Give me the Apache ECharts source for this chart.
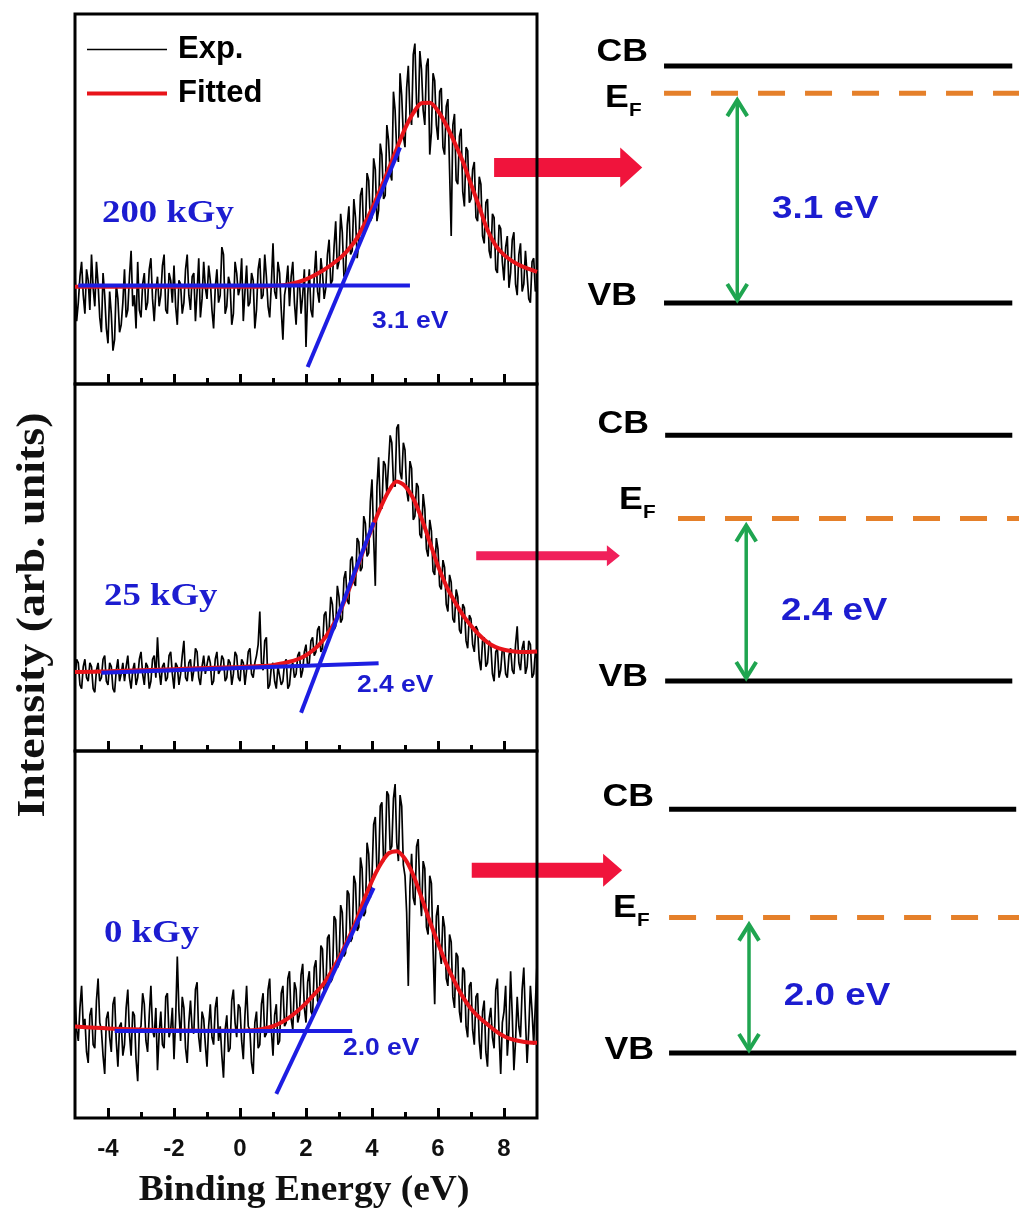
<!DOCTYPE html>
<html>
<head>
<meta charset="utf-8">
<script src="https://cdn.jsdelivr.net/npm/echarts@6/dist/echarts.min.js"></script>
<style>
  html, body { margin: 0; padding: 0; background: #fff; }
  #chart { width: 1019px; height: 1211px; }
</style>
</head>
<body>
<div id="chart"></div>
<script>
// ---- Valence-band XPS spectra (binding energy in eV, intensity in arb. units) ----
const energy = [
  -5, -4.95, -4.9, -4.85, -4.8, -4.75, -4.7, -4.65, -4.6, -4.55, -4.5, -4.45, -4.4, -4.35, -4.3, -4.25, -4.2, -4.15, -4.1, -4.05,
  -4, -3.95, -3.9, -3.85, -3.8, -3.75, -3.7, -3.65, -3.6, -3.55, -3.5, -3.45, -3.4, -3.35, -3.3, -3.25, -3.2, -3.15, -3.1, -3.05,
  -3, -2.95, -2.9, -2.85, -2.8, -2.75, -2.7, -2.65, -2.6, -2.55, -2.5, -2.45, -2.4, -2.35, -2.3, -2.25, -2.2, -2.15, -2.1, -2.05,
  -2, -1.95, -1.9, -1.85, -1.8, -1.75, -1.7, -1.65, -1.6, -1.55, -1.5, -1.45, -1.4, -1.35, -1.3, -1.25, -1.2, -1.15, -1.1, -1.05,
  -1, -0.95, -0.9, -0.85, -0.8, -0.75, -0.7, -0.65, -0.6, -0.55, -0.5, -0.45, -0.4, -0.35, -0.3, -0.25, -0.2, -0.15, -0.1, -0.05,
  0, 0.05, 0.1, 0.15, 0.2, 0.25, 0.3, 0.35, 0.4, 0.45, 0.5, 0.55, 0.6, 0.65, 0.7, 0.75, 0.8, 0.85, 0.9, 0.95,
  1, 1.05, 1.1, 1.15, 1.2, 1.25, 1.3, 1.35, 1.4, 1.45, 1.5, 1.55, 1.6, 1.65, 1.7, 1.75, 1.8, 1.85, 1.9, 1.95,
  2, 2.05, 2.1, 2.15, 2.2, 2.25, 2.3, 2.35, 2.4, 2.45, 2.5, 2.55, 2.6, 2.65, 2.7, 2.75, 2.8, 2.85, 2.9, 2.95,
  3, 3.05, 3.1, 3.15, 3.2, 3.25, 3.3, 3.35, 3.4, 3.45, 3.5, 3.55, 3.6, 3.65, 3.7, 3.75, 3.8, 3.85, 3.9, 3.95,
  4, 4.05, 4.1, 4.15, 4.2, 4.25, 4.3, 4.35, 4.4, 4.45, 4.5, 4.55, 4.6, 4.65, 4.7, 4.75, 4.8, 4.85, 4.9, 4.95,
  5, 5.05, 5.1, 5.15, 5.2, 5.25, 5.3, 5.35, 5.4, 5.45, 5.5, 5.55, 5.6, 5.65, 5.7, 5.75, 5.8, 5.85, 5.9, 5.95,
  6, 6.05, 6.1, 6.15, 6.2, 6.25, 6.3, 6.35, 6.4, 6.45, 6.5, 6.55, 6.6, 6.65, 6.7, 6.75, 6.8, 6.85, 6.9, 6.95,
  7, 7.05, 7.1, 7.15, 7.2, 7.25, 7.3, 7.35, 7.4, 7.45, 7.5, 7.55, 7.6, 7.65, 7.7, 7.75, 7.8, 7.85, 7.9, 7.95,
  8, 8.05, 8.1, 8.15, 8.2, 8.25, 8.3, 8.35, 8.4, 8.45, 8.5, 8.55, 8.6, 8.65, 8.7, 8.75, 8.8, 8.85, 8.9, 8.95,
  9
];

// measured spectra
const exp200 = [
  30, 17, 22, 29, 33, 24, 19, 31, 28, 20, 35, 26, 21, 33, 27, 18, 14, 30, 24, 15,
  11, 25, 19, 9, 12, 27, 23, 14, 16, 22, 31, 18, 20, 29, 36, 21, 24, 15, 33, 20,
  18, 27, 30, 20, 22, 31, 34, 23, 17, 25, 29, 21, 24, 32, 35, 20, 19, 30, 28, 22,
  32, 21, 16, 28, 27, 19, 22, 31, 35, 24, 20, 29, 30, 17, 25, 34, 18, 23, 33, 26,
  23, 32, 28, 20, 15, 26, 31, 22, 24, 37, 35, 19, 21, 29, 27, 16, 19, 33, 30, 24,
  26, 34, 17, 25, 32, 21, 22, 30, 28, 15, 20, 31, 34, 23, 24, 35, 29, 21, 18, 27,
  38, 25, 23, 33, 30, 20, 12, 24, 27, 32, 21, 29, 33, 22, 16, 26, 28, 19, 24, 31,
  10, 24, 31, 20, 18, 29, 36, 25, 22, 34, 30, 23, 26, 35, 39, 27, 28, 37, 44, 31,
  33, 46, 41, 29, 30, 43, 48, 35, 36, 50, 45, 34, 38, 51, 53, 40, 42, 57, 55, 44,
  45, 61, 58, 44, 47, 65, 62, 50, 51, 70, 66, 57, 55, 79, 74, 63, 60, 84, 78, 67,
  64, 80, 86, 73, 70, 89, 92, 76, 72, 90, 85, 74, 70, 86, 88, 62, 68, 84, 82, 70,
  66, 79, 80, 64, 62, 75, 77, 58, 40, 70, 73, 55, 54, 67, 69, 52, 48, 64, 63, 49,
  50, 58, 60, 45, 44, 56, 54, 40, 38, 49, 50, 36, 34, 46, 45, 31, 30, 43, 42, 33,
  28, 37, 40, 26, 30, 39, 41, 27, 24, 35, 38, 25, 27, 36, 36, 23, 22, 33, 34, 25,
  26
];
const exp25 = [
  20, 25, 24, 18, 17, 23, 25, 20, 19, 24, 23, 17, 16, 22, 24, 19, 20, 25, 26, 19,
  18, 24, 23, 17, 16, 22, 25, 19, 21, 24, 19, 23, 26, 20, 17, 22, 24, 18, 20, 25,
  27, 21, 18, 24, 23, 17, 19, 25, 26, 20, 31, 22, 18, 23, 24, 19, 20, 26, 27, 21,
  17, 24, 23, 18, 21, 26, 30, 20, 19, 24, 25, 19, 22, 28, 27, 20, 18, 23, 26, 21,
  21, 26, 24, 18, 19, 25, 27, 21, 22, 26, 25, 19, 20, 25, 24, 18, 21, 27, 26, 20,
  19, 25, 24, 18, 22, 27, 28, 21, 20, 24, 26, 29, 38, 24, 22, 30, 31, 17, 18, 23,
  24, 19, 17, 23, 23, 18, 19, 24, 25, 17, 18, 23, 24, 20, 21, 26, 27, 20, 22, 27,
  29, 23, 24, 30, 31, 26, 27, 33, 34, 27, 28, 37, 38, 31, 33, 42, 40, 33, 34, 45,
  42, 35, 36, 47, 49, 41, 40, 52, 53, 46, 45, 58, 57, 49, 50, 64, 62, 53, 54, 68,
  74, 58, 45, 72, 80, 67, 66, 79, 78, 70, 70, 86, 84, 73, 72, 88, 89, 76, 74, 84,
  82, 71, 68, 79, 77, 63, 64, 73, 72, 59, 58, 70, 66, 55, 53, 63, 60, 49, 48, 58,
  55, 45, 44, 52, 50, 40, 38, 48, 46, 36, 35, 44, 42, 33, 32, 40, 39, 30, 28, 37,
  36, 29, 27, 34, 33, 25, 22, 30, 31, 23, 24, 30, 29, 21, 19, 27, 28, 20, 22, 28,
  27, 21, 20, 26, 28, 22, 21, 29, 34, 24, 22, 28, 30, 21, 23, 30, 29, 20, 21, 27,
  25
];
const exp0 = [
  33, 24, 21, 30, 36, 25, 27, 18, 15, 28, 30, 20, 19, 32, 38, 26, 24, 17, 12, 27,
  29, 22, 18, 31, 33, 21, 14, 25, 26, 17, 20, 30, 35, 23, 17, 29, 28, 16, 10, 24,
  25, 34, 31, 21, 18, 28, 36, 24, 22, 30, 13, 23, 29, 20, 19, 33, 34, 22, 24, 30,
  16, 27, 44, 29, 21, 33, 30, 19, 15, 26, 32, 24, 23, 35, 37, 22, 18, 29, 27, 20,
  14, 25, 31, 22, 20, 30, 33, 21, 25, 17, 11, 24, 28, 18, 19, 32, 35, 26, 22, 31,
  30, 21, 16, 28, 36, 25, 24, 15, 12, 26, 29, 19, 20, 31, 34, 22, 23, 35, 38, 24,
  17, 28, 31, 20, 21, 34, 36, 25, 26, 38, 40, 27, 24, 37, 35, 26, 28, 39, 42, 30,
  26, 37, 40, 29, 28, 41, 43, 32, 31, 47, 46, 34, 35, 49, 50, 37, 38, 55, 54, 41,
  42, 58, 56, 44, 45, 62, 61, 48, 49, 66, 64, 51, 52, 71, 68, 55, 56, 75, 72, 60,
  66, 80, 82, 67, 68, 85, 86, 70, 71, 89, 88, 73, 74, 87, 91, 75, 70, 88, 85, 69,
  66, 56, 36, 63, 72, 60, 58, 74, 76, 62, 55, 70, 68, 52, 50, 66, 64, 46, 31, 55,
  58, 46, 42, 55, 52, 38, 36, 50, 48, 33, 30, 45, 44, 29, 26, 41, 40, 25, 22, 36,
  37, 24, 20, 33, 34, 21, 16, 29, 32, 18, 14, 27, 30, 22, 19, 35, 38, 23, 12, 26,
  29, 36, 17, 24, 40, 28, 13, 21, 33, 25, 22, 35, 41, 27, 15, 24, 36, 29, 20, 31,
  42
];

// fitted peaks [binding energy, intensity]
const fit200 = [
  [-5, 26.3], [-2, 26.3], [0.5, 26.3], [1, 26.5], [1.5, 27.0], [2, 28.3], [2.5, 30.6],
  [3, 33.8], [3.25, 36.0], [3.5, 38.8], [3.75, 42.8], [4, 47.4], [4.25, 52.6], [4.5, 58.0],
  [4.75, 63.6], [5, 69.0], [5.25, 73.2], [5.5, 75.9], [5.75, 76.0], [6, 73.8], [6.25, 70.0],
  [6.5, 65.3], [6.75, 60.2], [7, 54.0], [7.25, 47.9], [7.5, 41.6], [7.75, 37.4], [8, 34.9],
  [8.25, 33.2], [8.5, 32.0], [8.75, 31.1], [9, 30.3]
];
const fit25 = [
  [-5, 21.5], [-4, 21.7], [-3, 22.0], [-2, 22.3], [-1, 22.6], [0, 22.9], [0.5, 23.1],
  [1, 23.4], [1.5, 24.3], [1.75, 25.0], [2, 26.1], [2.25, 27.7], [2.5, 30.0], [2.75, 33.2],
  [3, 37.4], [3.25, 42.8], [3.5, 48.8], [3.75, 54.9], [4, 60.7], [4.25, 66.1], [4.5, 70.7],
  [4.75, 73.4], [5, 72.2], [5.25, 68.8], [5.5, 63.4], [5.75, 56.9], [6, 50.4], [6.25, 45.0],
  [6.5, 40.8], [6.75, 37.1], [7, 34.1], [7.25, 31.6], [7.5, 29.6], [7.75, 28.3], [8, 27.6],
  [8.25, 27.2], [8.5, 27.0], [8.75, 27.0], [9, 27.1]
];
const fit0 = [
  [-5, 24.9], [-4, 24.4], [-3, 24.1], [-2, 23.9], [-1, 23.8], [0, 23.8], [0.5, 24.0],
  [0.75, 24.4], [1, 25.0], [1.25, 26.0], [1.5, 27.4], [1.75, 29.2], [2, 31.3], [2.25, 33.7],
  [2.5, 36.2], [2.75, 39.6], [3, 43.6], [3.25, 48.2], [3.5, 53.2], [3.75, 59.2], [4, 64.6],
  [4.25, 69.0], [4.5, 72.1], [4.75, 72.7], [5, 70.6], [5.25, 66.2], [5.5, 60.1], [5.75, 53.6],
  [6, 47.6], [6.25, 42.0], [6.5, 37.2], [6.75, 33.0], [7, 29.8], [7.25, 27.4], [7.5, 25.5],
  [7.75, 23.7], [8, 22.3], [8.25, 21.4], [8.5, 20.9], [8.75, 20.6], [9, 20.5]
];

// background lines and leading-edge tangents used for the VB-maximum extrapolation
const base200 = [[-4.9, 26.6], [5.15, 26.6]];
const tangent200 = [[2.05, 4.6], [4.85, 63.9]];
const base25 = [[-4.2, 21.3], [4.2, 23.9]];
const tangent25 = [[1.85, 10.4], [4.05, 62.3]];
const base0 = [[-3.8, 23.7], [3.4, 23.7]];
const tangent0 = [[1.1, 6.6], [4.05, 62.7]];

// sample doses and VB maximum below E_F (eV)
const doses = ['200 kGy', '25 kGy', '0 kGy'];
const vbOnset = [3.1, 2.4, 2.0];

// x-axis ticks
const tickValues = [-4, -2, 0, 2, 4, 6, 8];
const minorTickValues = [-3, -1, 1, 3, 5, 7];

// band diagrams: level energies relative to VB (eV)
const cbLevel = [3.5, 3.63, 3.6];
const efLevel = [3.1, 2.4, 2.0];
const vbLevel = [0, 0, 0];
// horizontal extent of the level lines (diagram units 0-100)
const levelStart = [36.5, 36.7, 37.4];
const efStart = [36.5, 39.0, 37.4];
const levelEnd = [98.8, 98.8, 99.5];
const efEnd = [100, 100, 100];
// double-headed gap arrows
const gapArrowX = [49.6, 51.2, 51.7];
// block arrows from each spectrum to its diagram: tail, tip, height (eV)
const pointerTail = [6.1, 2.9, 2.1];
const pointerTip = [32.6, 28.6, 29.0];
const pointerLevel = [2.0, 1.85, 2.7];

// ---------------------------------------------------------------------------
const BLUE_TEXT = '#1c1cd0';
const BLUE_LINE = '#1d1de2';
const RED_FIT = '#e8141a';
const SANS = '"Liberation Sans", Arial, sans-serif';
const SERIF = '"Liberation Serif", "Times New Roman", serif';
const STRETCH = 1.15;

const expSets = [exp200, exp25, exp0];
const fitSets = [fit200, fit25, fit0];
const baseSets = [base200, base25, base0];
const tangentSets = [tangent200, tangent25, tangent0];

const leftLayout = [
  { top: 14, height: 370 },
  { top: 384, height: 367 },
  { top: 751, height: 367 }
];
const rightLayout = [
  { top: 32.2, height: 338.5 },
  { top: 410.2, height: 338.5 },
  { top: 782.2, height: 338.5 }
];
const pointerStyle = [
  { shaft: 19, headLen: 22, headH: 40, color: '#f0143c' },
  { shaft: 9, headLen: 13, headH: 21, color: '#f0205a' },
  { shaft: 15, headLen: 19, headH: 33, color: '#f0143c' }
];

const grid = [];
const xAxis = [];
const yAxis = [];
const series = [];

leftLayout.forEach((l, i) => {
  grid.push({
    left: 75, width: 462, top: l.top, height: l.height,
    show: true, borderColor: '#000', borderWidth: 3, backgroundColor: 'transparent'
  });
  // major ticks (+ labels on the lowest panel)
  xAxis.push({
    gridIndex: i, type: 'value', min: -5, max: 9, position: 'bottom',
    axisLine: { show: false },
    splitLine: { show: false },
    axisTick: {
      show: true, inside: true, length: 10, customValues: tickValues,
      lineStyle: { color: '#000', width: 3 }
    },
    axisLabel: {
      show: i === 2, customValues: tickValues, margin: 19,
      fontFamily: SANS, fontWeight: 'bold', fontSize: 24, color: '#111'
    }
  });
  // minor ticks
  xAxis.push({
    gridIndex: i, type: 'value', min: -5, max: 9, position: 'bottom', offset: 0,
    axisLine: { show: false },
    splitLine: { show: false },
    axisTick: {
      show: true, inside: true, length: 6, customValues: minorTickValues,
      lineStyle: { color: '#000', width: 3 }
    },
    axisLabel: { show: false }
  });
  yAxis.push({ gridIndex: i, type: 'value', min: 0, max: 100, show: false });
});

rightLayout.forEach((l, i) => {
  grid.push({ left: 460, width: 559, top: l.top, height: l.height, show: false });
  xAxis.push({ gridIndex: 3 + i, type: 'value', min: 0, max: 100, show: false });
  yAxis.push({ gridIndex: 3 + i, type: 'value', min: -1, max: 4, show: false });
});

// spectra, fits and extrapolation lines
for (let i = 0; i < 3; i++) {
  const xi = 2 * i;
  series.push({
    name: 'Exp.', type: 'line', xAxisIndex: xi, yAxisIndex: i,
    data: energy.map((e, k) => [e, expSets[i][k]]),
    symbol: 'none', lineStyle: { color: '#000', width: 1.7 }, itemStyle: { color: '#000' },
    z: 2, silent: true
  });
  series.push({
    name: 'Fitted', type: 'line', xAxisIndex: xi, yAxisIndex: i,
    data: fitSets[i], smooth: 0.3,
    symbol: 'none', lineStyle: { color: RED_FIT, width: 4 }, itemStyle: { color: RED_FIT },
    z: 3, silent: true
  });
  series.push({
    name: 'background ' + doses[i], type: 'line', xAxisIndex: xi, yAxisIndex: i,
    data: baseSets[i], symbol: 'none',
    lineStyle: { color: BLUE_LINE, width: 4 }, z: 4, silent: true
  });
  series.push({
    name: 'edge ' + doses[i], type: 'line', xAxisIndex: xi, yAxisIndex: i,
    data: tangentSets[i], symbol: 'none',
    lineStyle: { color: BLUE_LINE, width: 4 }, z: 4, silent: true
  });
}

// band diagrams
function renderLevel(params, api) {
  const x0 = api.value(0), x1 = api.value(1), lv = api.value(2), kind = api.value(3);
  const p0 = api.coord([x0, lv]);
  const p1 = api.coord([x1, lv]);
  const isEf = kind === 1;
  return {
    type: 'line',
    shape: { x1: p0[0], y1: p0[1], x2: p1[0], y2: p1[1] },
    style: {
      stroke: isEf ? '#e5802a' : '#000',
      lineWidth: 5,
      lineDash: isEf ? [27, 20] : null
    }
  };
}

function renderGap(params, api) {
  const x = api.value(0), top = api.value(1), bottom = api.value(2);
  const pt = api.coord([x, top]);
  const pb = api.coord([x, bottom]);
  const tipT = pt[1] + 7;
  const tipB = pb[1] - 3;
  const green = '#1fa550';
  const gap = top - bottom;
  return {
    type: 'group',
    children: [
      { type: 'line', shape: { x1: pt[0], y1: tipT + 1, x2: pb[0], y2: tipB - 1 },
        style: { stroke: green, lineWidth: 3.5 } },
      { type: 'polyline', shape: { points: [[pt[0] - 10, tipT + 16], [pt[0], tipT], [pt[0] + 10, tipT + 16]] },
        style: { stroke: green, lineWidth: 4, fill: null, lineJoin: 'miter' } },
      { type: 'polyline', shape: { points: [[pb[0] - 10, tipB - 16], [pb[0], tipB], [pb[0] + 10, tipB - 16]] },
        style: { stroke: green, lineWidth: 4, fill: null, lineJoin: 'miter' } },
      { type: 'text', x: pt[0] + 88, y: (pt[1] + pb[1]) / 2 + 11, scaleX: STRETCH,
        style: {
          text: gap.toFixed(1) + ' eV', fill: BLUE_TEXT,
          font: 'bold 32px ' + SANS,
          align: 'center', verticalAlign: 'middle',
          textAlign: 'center', textVerticalAlign: 'middle'
        } }
    ]
  };
}

function makePointerRenderer(st) {
  return function (params, api) {
    const tail = api.coord([api.value(0), api.value(2)]);
    const tip = api.coord([api.value(1), api.value(2)]);
    const y = tip[1];
    const xh = tip[0] - st.headLen;
    const t = st.shaft / 2, h = st.headH / 2;
    return {
      type: 'polygon',
      shape: {
        points: [
          [tail[0], y - t], [xh, y - t], [xh, y - h], [tip[0], y],
          [xh, y + h], [xh, y + t], [tail[0], y + t]
        ]
      },
      style: { fill: st.color }
    };
  };
}

for (let i = 0; i < 3; i++) {
  const xi = 6 + i, yi = 3 + i;
  series.push({
    name: 'levels ' + doses[i], type: 'custom', xAxisIndex: xi, yAxisIndex: yi,
    renderItem: renderLevel,
    encode: { x: [0, 1], y: 2 },
    data: [
      [levelStart[i], levelEnd[i], cbLevel[i], 0],
      [efStart[i], efEnd[i], efLevel[i], 1],
      [levelStart[i], levelEnd[i], vbLevel[i], 2]
    ],
    z: 3, silent: true
  });
  series.push({
    name: 'gap ' + doses[i], type: 'custom', xAxisIndex: xi, yAxisIndex: yi,
    renderItem: renderGap,
    encode: { x: 0, y: [1, 2] },
    data: [[gapArrowX[i], efLevel[i], vbLevel[i]]],
    z: 4, silent: true
  });
  series.push({
    name: 'pointer ' + doses[i], type: 'custom', xAxisIndex: xi, yAxisIndex: yi,
    renderItem: makePointerRenderer(pointerStyle[i]),
    encode: { x: [0, 1], y: 2 },
    data: [[pointerTail[i], pointerTip[i], pointerLevel[i]]],
    z: -1, silent: true
  });
}

// text annotations
function txt(x, y, text, font, fill, align, extra) {
  return Object.assign({
    type: 'text', x: x, y: y, scaleX: STRETCH, silent: true, z: 10,
    style: {
      text: text, font: font, fill: fill,
      align: align, verticalAlign: 'middle',
      textAlign: align, textVerticalAlign: 'middle'
    }
  }, extra || {});
}

const doseLabelPos = [[102, 214], [104, 597], [104, 934]];
const onsetLabelPos = [[372, 322], [357, 686], [343, 1049]];
const cbLabelPos = [[648, 52], [649, 424], [654, 797]];
const eLabelPos = [[605, 98], [619, 500], [613, 908]];
const vbLabelPos = [[637, 296], [648, 677], [654, 1050]];

const graphic = [];
for (let i = 0; i < 3; i++) {
  graphic.push(txt(doseLabelPos[i][0], doseLabelPos[i][1], doses[i], 'bold 32px ' + SERIF, BLUE_TEXT, 'left'));
  graphic.push(txt(onsetLabelPos[i][0], onsetLabelPos[i][1], vbOnset[i].toFixed(1) + ' eV', 'bold 23px ' + SANS, BLUE_TEXT, 'left'));
  graphic.push(txt(cbLabelPos[i][0], cbLabelPos[i][1], 'CB', 'bold 31px ' + SANS, '#000', 'right'));
  graphic.push(txt(vbLabelPos[i][0], vbLabelPos[i][1], 'VB', 'bold 31px ' + SANS, '#000', 'right'));
  graphic.push(txt(eLabelPos[i][0], eLabelPos[i][1], 'E', 'bold 31px ' + SANS, '#000', 'left'));
  graphic.push(txt(eLabelPos[i][0] + 24, eLabelPos[i][1] + 13, 'F', 'bold 18px ' + SANS, '#000', 'left'));
}
graphic.push(txt(304, 1191, 'Binding Energy (eV)', 'bold 36px ' + SERIF, '#111', 'center', { scaleX: 1.04 }));
graphic.push(txt(34, 615, 'Intensity (arb. units)', 'bold 40px ' + SERIF, '#111', 'center',
  { scaleX: 1.15, rotation: Math.PI / 2 }));

const option = {
  animation: false,
  backgroundColor: '#fff',
  legend: {
    data: [
      { name: 'Exp.', icon: 'path://M0,0H80V1.6H0Z' },
      { name: 'Fitted', icon: 'path://M0,0H80V4H0Z' }
    ],
    orient: 'vertical', left: 87, top: 34, padding: 0,
    itemWidth: 80, itemHeight: 20, itemGap: 13,
    selectedMode: false,
    textStyle: {
      fontFamily: SANS, fontWeight: 'bold', fontSize: 31, color: '#000',
      padding: [0, 0, 0, 6]
    }
  },
  grid: grid,
  xAxis: xAxis,
  yAxis: yAxis,
  series: series,
  graphic: graphic
};

const chart = echarts.init(document.getElementById('chart'), null, { renderer: 'canvas' });
chart.setOption(option);
</script>
</body>
</html>
